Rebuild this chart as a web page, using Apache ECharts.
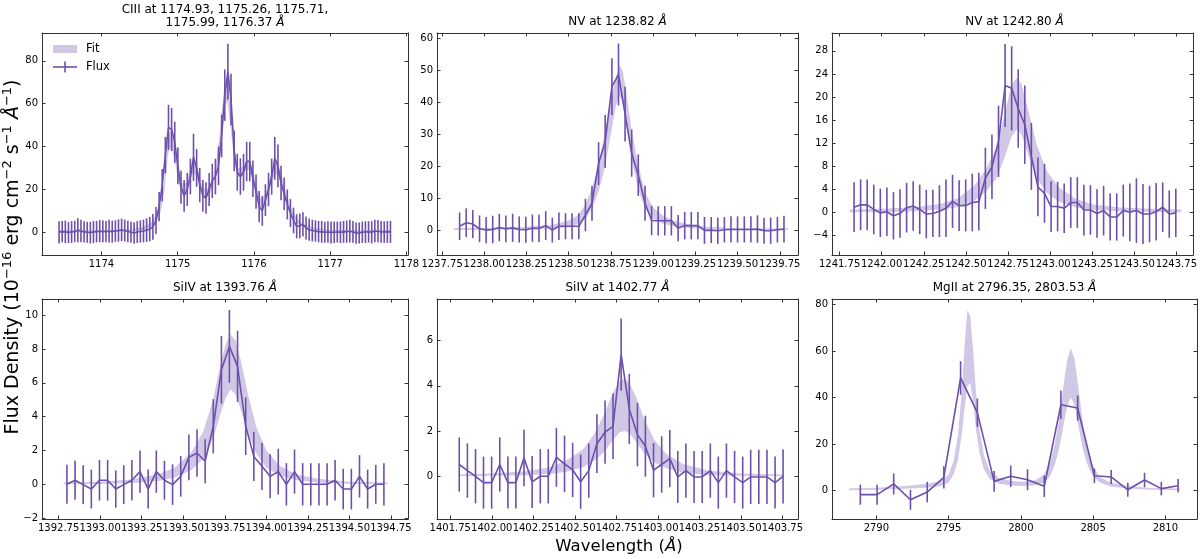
<!DOCTYPE html>
<html>
<head>
<meta charset="utf-8">
<script src="https://cdn.jsdelivr.net/npm/echarts@6/dist/echarts.min.js"></script>
<style>
  html, body { margin: 0; padding: 0; background: #fff; }
  #chart { width: 1200px; height: 559px; }
</style>
</head>
<body>
<div id="chart"></div>
<script>
// ---- CIII multiplet ----
var ciiiWave = [1173.444, 1173.485, 1173.526, 1173.567, 1173.608, 1173.649, 1173.690, 1173.731, 1173.772, 1173.813,
  1173.854, 1173.895, 1173.936, 1173.977, 1174.018, 1174.059, 1174.100, 1174.141, 1174.182, 1174.223,
  1174.264, 1174.305, 1174.346, 1174.387, 1174.428, 1174.469, 1174.510, 1174.551, 1174.592, 1174.633,
  1174.674, 1174.715, 1174.756, 1174.797, 1174.838, 1174.879, 1174.920, 1174.961, 1175.002, 1175.043,
  1175.084, 1175.125, 1175.166, 1175.207, 1175.248, 1175.289, 1175.330, 1175.371, 1175.412, 1175.453,
  1175.494, 1175.535, 1175.576, 1175.617, 1175.658, 1175.699, 1175.740, 1175.781, 1175.822, 1175.863,
  1175.904, 1175.945, 1175.986, 1176.027, 1176.068, 1176.109, 1176.150, 1176.191, 1176.232, 1176.273,
  1176.314, 1176.355, 1176.396, 1176.437, 1176.478, 1176.519, 1176.560, 1176.601, 1176.642, 1176.683,
  1176.724, 1176.765, 1176.806, 1176.847, 1176.888, 1176.929, 1176.970, 1177.011, 1177.052, 1177.093,
  1177.134, 1177.175, 1177.216, 1177.257, 1177.298, 1177.339, 1177.380, 1177.421, 1177.462, 1177.503,
  1177.544, 1177.585, 1177.626, 1177.667, 1177.708, 1177.749, 1177.790];
var ciiiFlux = [0.0, 0.3, 0.2, -0.1, 0.1, 0.4, 1.0, 0.6, 0.2, 0.0, -0.2, 0.1, 0.3, 0.5, 0.4, 0.3, 0.5, 0.3, 0.6, 0.8,
  1.1, 0.8, 0.4, 0.0, -0.3, 0.1, 0.4, 0.6,
  1.0, 1.5, 2.5, 5.5, 12, 22, 36, 49, 48, 42, 31, 21, 17, 20, 26, 35, 30, 22, 17, 16, 20, 24, 26, 31, 45, 64, 75, 62, 38,
  28, 26, 28, 33, 33, 25, 19, 12, 10, 15, 20, 26, 34.5, 31, 23, 18, 13, 9, 5.5, 2.8, 3.0, 3.7, 2.0, 1.2, 0.8, 0.6,
  0.3, 0.2, 0.0, 0.1, -0.1, 0.0, 0.1, 0.0, 0.2, 0.3, 0.5, 0.2, -0.4, -0.3, 0.0, 0.1, 0.2, 0.0, 0.6, 0.5, 0.2, 0.1, 0.2, 0.2];
var ciiiErr = [5.2, 5.0, 5.3, 4.9, 5.1, 5.0, 5.6, 5.2, 5.0, 4.9, 5.0, 5.1, 5.0, 5.2, 5.1, 5.0, 5.3, 5.1, 5.0, 5.2,
  5.3, 5.1, 5.0, 4.9, 5.0, 5.1, 5.2, 5.3,
  5.5, 5.7, 6.0, 6.3, 6.8, 7.5, 8.5, 10.5, 10.0, 9.6, 8.6, 7.7, 7.4, 7.7, 8.3, 11.0, 8.8, 8.0, 7.4, 7.3, 7.7, 8.0,
  8.3, 9.0, 10.0, 12.0, 13.0, 12.0, 9.5,
  8.6, 8.5, 8.6, 9.2, 9.2, 8.5, 8.0, 7.3, 7.0, 7.4, 7.8, 8.4, 10.0, 10.0, 8.0, 7.6, 7.0, 6.5, 6.0, 5.6, 5.8, 5.7,
  5.4, 5.2, 5.1, 5.0,
  5.0, 5.1, 4.9, 5.0, 5.1, 5.0, 4.9, 5.0, 5.1, 5.2, 5.3, 5.1, 5.0, 4.9, 5.0, 5.1, 5.0, 5.2, 5.3, 5.2, 5.1, 5.0, 5.1, 5.2];
var ciiiFitWave = [1173.44, 1174.0, 1174.4, 1174.55, 1174.65, 1174.72, 1174.78, 1174.83, 1174.87, 1174.91,
  1174.96, 1175.01, 1175.06, 1175.11, 1175.16, 1175.21, 1175.26, 1175.31, 1175.36, 1175.41,
  1175.46, 1175.51, 1175.56, 1175.61, 1175.65, 1175.69, 1175.74, 1175.79, 1175.84, 1175.89,
  1175.93, 1175.98, 1176.03, 1176.08, 1176.12, 1176.17, 1176.22, 1176.27, 1176.31, 1176.36,
  1176.41, 1176.46, 1176.51, 1176.56, 1176.62, 1176.7, 1176.8, 1177.0, 1177.3, 1177.79];
var ciiiFitLow = [0, 0, 0.4, 1.2, 2.5, 5, 10, 20, 36, 40, 34, 23, 19, 19, 24, 28, 25, 19, 16, 17,
  21, 29, 42, 58, 61, 50, 33, 26, 26, 29, 29, 25, 18, 12, 12, 16, 22, 27, 27, 22,
  16, 11, 7, 4.5, 3, 2, 1.2, 0.4, 0.1, 0];
var ciiiFitHigh = [1, 1, 1.4, 2.6, 4.5, 8, 14, 26, 44, 48, 41, 28, 23, 23, 29, 33, 30, 23, 20, 21,
  25, 34, 49, 68, 72, 59, 39, 30, 30, 33, 34, 30, 22, 16, 16, 20, 27, 32, 32, 27,
  20, 14, 9.5, 6.5, 4.5, 3, 2, 1.2, 1, 1];
var ciiiXTicks = [1174, 1175, 1176, 1177, 1178];
var ciiiYTicks = [0, 20, 40, 60, 80];

// ---- NV 1238.82 ----
var nv1Wave = [1237.854, 1237.893, 1237.932, 1237.972, 1238.011, 1238.050, 1238.089, 1238.128, 1238.168, 1238.207,
  1238.246, 1238.285, 1238.324, 1238.364, 1238.403, 1238.442, 1238.481, 1238.520, 1238.560, 1238.599,
  1238.638, 1238.677, 1238.716, 1238.756, 1238.795, 1238.834, 1238.873, 1238.912, 1238.952, 1238.991,
  1239.030, 1239.069, 1239.108, 1239.148, 1239.187, 1239.226, 1239.265, 1239.304, 1239.344, 1239.383,
  1239.422, 1239.461, 1239.500, 1239.540, 1239.579, 1239.618, 1239.657, 1239.696, 1239.736, 1239.775];
var nv1Flux = [1.2, 2.3, 1.9, 0.4, 0.0, 0.2, 0.8, 0.4, 0.7, 0.2, 0.1, 0.6, 0.5, 1.4, 0.0, 1.2, 1.2, 1.2, 1.2, 4.7,
  8.4, 20.8, 27.7, 44.9, 48.7, 36.3, 24.1, 17.2, 8.4, 3.0, 2.9, 2.9, 2.9, 0.6, 1.4, 1.4, 1.4, -0.1, 0.0, -0.2,
  0.1, 0.2, 0.2, 0.2, 0.2, 0.3, -0.2, -0.2, 0.1, 0.3];
var nv1Err = [4.3, 4.5, 4.4, 4.2, 4.1, 4.3, 4.3, 4.2, 4.4, 4.1, 4.1, 4.3, 4.3, 4.5, 3.9, 4.3, 4.1, 4.1, 4.1, 5.1,
  5.5, 6.7, 8.3, 8.9, 9.7, 8.6, 7.4, 6.5, 5.5, 4.6, 4.6, 4.6, 4.6, 4.1, 4.3, 4.3, 4.3, 4.2, 4.1, 4.1,
  4.0, 4.1, 4.1, 4.1, 4.1, 4.3, 4.1, 4.1, 4.0, 4.2];
var nv1FitWave = [1237.82, 1238.2, 1238.4, 1238.5, 1238.55, 1238.60, 1238.64, 1238.677, 1238.716, 1238.756, 1238.78,
  1238.80, 1238.82, 1238.85, 1238.873, 1238.91, 1238.95, 1239.0, 1239.06, 1239.12, 1239.2, 1239.3, 1239.5, 1239.80];
var nv1FitLow = [0, 0.2, 0.5, 1.0, 1.8, 3.5, 7, 12, 20, 32, 39, 42, 40, 30, 22, 13, 7, 3.5, 2, 1.2, 0.7, 0.35, 0.1, 0];
var nv1FitHigh = [0.6, 0.9, 1.6, 3.0, 4.5, 8, 13.5, 21, 31, 42, 48, 51.5, 50, 40, 31, 21, 12, 7, 4.5, 3.0, 1.9, 1.1, 0.6, 0.5];
var nv1XTicks = [1237.75, 1238.0, 1238.25, 1238.5, 1238.75, 1239.0, 1239.25, 1239.5, 1239.75];
var nv1YTicks = [0, 10, 20, 30, 40, 50, 60];

// ---- NV 1242.80 ----
var nv2Wave = [1241.836, 1241.875, 1241.914, 1241.953, 1241.992, 1242.031, 1242.070, 1242.109, 1242.148, 1242.187,
  1242.226, 1242.265, 1242.304, 1242.343, 1242.382, 1242.421, 1242.460, 1242.499, 1242.538, 1242.577,
  1242.616, 1242.655, 1242.694, 1242.733, 1242.772, 1242.811, 1242.850, 1242.889, 1242.928, 1242.967,
  1243.006, 1243.045, 1243.084, 1243.123, 1243.162, 1243.201, 1243.240, 1243.279, 1243.318, 1243.357,
  1243.396, 1243.435, 1243.474, 1243.513, 1243.552, 1243.591, 1243.630, 1243.669, 1243.708, 1243.747];
var nv2Flux = [0.9, 1.3, 1.3, 0.5, -0.1, 0.1, -0.6, -0.2, 0.8, 1.1, 0.5, -0.3, -0.2, 0.2, 0.7, 1.9, 1.15, 1.2, 1.7, 1.85,
  5.9, 7.9, 12.3, 22.0, 21.5, 18.0, 15.2, 9.7, 4.4, 3.3, 1.0, 1.0, 0.7, 1.7, 1.7, 0.4, 0.4, -0.2, 0.3, -0.8,
  -0.8, 0.3, 0.0, 0.3, -0.3, -0.3, 0.1, 0.9, -0.3, -0.1];
var nv2Err = [4.3, 4.4, 4.4, 4.3, 4.2, 4.2, 4.1, 4.2, 4.3, 4.3, 4.3, 4.2, 4.1, 4.5, 5.0, 4.6, 4.4, 4.5, 5.0, 5.0,
  5.3, 5.6, 6.2, 7.2, 7.3, 6.8, 6.8, 5.8, 5.1, 5.1, 4.4, 4.3, 4.3, 4.4, 4.4, 4.4, 4.3, 4.2, 4.3, 4.1,
  4.1, 4.5, 5.0, 5.6, 5.2, 4.9, 5.0, 4.3, 4.1, 4.2];
var nv2FitWave = [1241.81, 1242.0, 1242.2, 1242.35, 1242.45, 1242.55, 1242.62, 1242.68, 1242.73, 1242.77, 1242.80,
  1242.83, 1242.87, 1242.92, 1242.98, 1243.05, 1243.15, 1243.25, 1243.4, 1243.6, 1243.78];
var nv2FitLow = [0.0, 0.05, 0.2, 0.5, 0.9, 2.0, 3.6, 5.8, 9.5, 13, 14.3, 13.5, 10, 6, 3.4, 1.9, 0.9, 0.45, 0.2, 0.05, 0.0];
var nv2FitHigh = [0.5, 0.6, 0.9, 1.5, 2.4, 4.6, 7.5, 11.2, 17, 22, 23.3, 22.3, 17.8, 11.8, 7.2, 4.4, 2.4, 1.4, 0.9, 0.6, 0.5];
var nv2XTicks = [1241.75, 1242.0, 1242.25, 1242.5, 1242.75, 1243.0, 1243.25, 1243.5, 1243.75];
var nv2YTicks = [-4, 0, 4, 8, 12, 16, 20, 24, 28];

// ---- SiIV 1393.76 ----
var si1Wave = [1392.800, 1392.849, 1392.898, 1392.947, 1392.996, 1393.045, 1393.094, 1393.142, 1393.191, 1393.240,
  1393.289, 1393.338, 1393.387, 1393.436, 1393.485, 1393.534, 1393.583, 1393.632, 1393.681, 1393.730,
  1393.778, 1393.827, 1393.876, 1393.925, 1393.974, 1394.023, 1394.072, 1394.121, 1394.170, 1394.219,
  1394.268, 1394.317, 1394.366, 1394.414, 1394.463, 1394.512, 1394.561, 1394.610, 1394.659, 1394.708];
var si1Flux = [0.0, 0.24, -0.02, -0.28, 0.24, 0.24, -0.28, -0.02, 0.24, 0.75, -0.28, 0.75, 0.24, -0.02, 0.47, 1.59,
  1.85, 1.36, 3.43, 6.77, 8.15, 6.97, 3.43, 1.65, 1.06, 0.47, 0.75, 0.0, 0.75, 0.0, 0.0, 0.0, 0.0, 0.24, -0.28,
  -0.28, 0.47, -0.28, 0.0, 0.0];
var si1Err = [1.15, 1.15, 1.15, 1.15, 1.2, 1.2, 1.1, 1.15, 1.2, 1.25, 1.15, 1.25, 1.15, 1.2, 1.2, 1.35, 1.4, 1.3,
  1.6, 2.0, 2.15, 2.1, 1.7, 1.45, 1.4, 1.3, 1.35, 1.25, 1.3, 1.25, 1.25, 1.25, 1.25, 1.2, 1.2, 1.2, 1.25, 1.15,
  1.15, 1.25];
var si1FitWave = [1392.78, 1393.0, 1393.2, 1393.35, 1393.45, 1393.55, 1393.62, 1393.68, 1393.72, 1393.755, 1393.785,
  1393.815, 1393.85, 1393.89, 1393.94, 1394.0, 1394.08, 1394.18, 1394.3, 1394.5, 1394.73];
var si1FitLow = [0.0, 0.02, 0.08, 0.2, 0.4, 0.85, 1.5, 2.7, 4.0, 5.1, 5.6, 5.3, 4.3, 3.0, 1.8, 1.0, 0.5, 0.25, 0.1, 0.03, 0.0];
var si1FitHigh = [0.1, 0.15, 0.3, 0.6, 1.0, 1.9, 3.1, 5.0, 6.9, 8.3, 8.85, 8.5, 7.2, 5.3, 3.4, 2.0, 1.1, 0.6, 0.35, 0.15, 0.1];
var si1XTicks = [1392.75, 1393.0, 1393.25, 1393.5, 1393.75, 1394.0, 1394.25, 1394.5, 1394.75];
var si1YTicks = [-2, 0, 2, 4, 6, 8, 10];

// ---- SiIV 1402.77 ----
var si2Wave = [1401.804, 1401.853, 1401.902, 1401.950, 1401.999, 1402.048, 1402.097, 1402.145, 1402.194, 1402.243,
  1402.292, 1402.340, 1402.389, 1402.438, 1402.487, 1402.535, 1402.584, 1402.633, 1402.682, 1402.730,
  1402.779, 1402.828, 1402.877, 1402.925, 1402.974, 1403.023, 1403.072, 1403.120, 1403.169, 1403.218,
  1403.267, 1403.316, 1403.364, 1403.413, 1403.462, 1403.511, 1403.559, 1403.608, 1403.657, 1403.706, 1403.754];
var si2Flux = [0.52, 0.25, 0.0, -0.28, -0.28, 0.52, -0.28, -0.28, 0.81, -0.25, 0.0, 0.0, 0.84, 0.55, 0.28, -0.24,
  0.25, 1.44, 1.95, 2.21, 5.38, 2.98, 1.84, 1.33, 0.27, 0.52, 0.78, -0.03, 0.25, -0.03, -0.03, 0.25, -0.28, 0.25,
  -0.03, -0.28, -0.03, -0.03, -0.03, -0.28, 0.0];
var si2Err = [1.2, 1.2, 1.2, 1.15, 1.15, 1.2, 1.15, 1.15, 1.25, 1.15, 1.2, 1.2, 1.3, 1.25, 1.2, 1.2, 1.2, 1.3, 1.4,
  1.45, 1.6, 1.55, 1.4, 1.35, 1.2, 1.25, 1.27, 1.15, 1.2, 1.15, 1.15, 1.2, 1.15, 1.2, 1.15, 1.15, 1.2, 1.2, 1.2,
  1.15, 1.2];
var si2FitWave = [1401.80, 1402.0, 1402.2, 1402.35, 1402.45, 1402.55, 1402.62, 1402.68, 1402.73, 1402.77, 1402.80,
  1402.83, 1402.87, 1402.92, 1402.98, 1403.05, 1403.15, 1403.3, 1403.5, 1403.76];
var si2FitLow = [0.0, 0.02, 0.05, 0.1, 0.2, 0.4, 0.7, 1.1, 1.6, 1.95, 2.0, 1.9, 1.5, 1.0, 0.6, 0.35, 0.15, 0.06, 0.02, 0.0];
var si2FitHigh = [0.08, 0.12, 0.22, 0.4, 0.7, 1.2, 1.9, 2.8, 3.7, 4.2, 4.35, 4.1, 3.5, 2.5, 1.6, 1.0, 0.55, 0.25, 0.12, 0.08];
var si2XTicks = [1401.75, 1402.0, 1402.25, 1402.5, 1402.75, 1403.0, 1403.25, 1403.5, 1403.75];
var si2YTicks = [0, 2, 4, 6];

// ---- MgII h & k ----
var mgWave = [2788.89, 2790.05, 2791.20, 2792.36, 2793.52, 2794.67, 2795.83, 2796.99, 2798.15, 2799.30,
  2800.46, 2801.62, 2802.77, 2803.93, 2805.09, 2806.25, 2807.40, 2808.56, 2809.72, 2810.88];
var mgFlux = [-1.7, -1.7, 2.9, -3.9, -0.6, 5.7, 48.4, 33.5, 4.0, 6.2, 4.7, 1.9, 36.9, 35.5, 6.4, 5.9, 0.4, 4.6, 0.9, 2.1];
var mgErr = [4.3, 4.3, 4.5, 4.3, 4.4, 4.8, 7.2, 6.1, 4.5, 4.6, 4.5, 4.6, 6.1, 5.4, 3.1, 3.0, 3.0, 3.1, 2.9, 2.9];
var mgFitWave = [2788.1, 2790, 2792, 2793.5, 2794.5, 2795.0, 2795.35, 2795.65, 2795.9, 2796.1, 2796.3, 2796.5,
  2796.7, 2796.9, 2797.15, 2797.45, 2797.85, 2798.5, 2799.3, 2800.2, 2801.0, 2801.6, 2802.0, 2802.35, 2802.65,
  2802.95, 2803.2, 2803.45, 2803.7, 2803.95, 2804.25, 2804.55, 2804.95, 2805.45, 2806.2, 2807.4, 2809.0, 2811.0];
var mgFitLow = [0.2, 0.4, 0.8, 1.3, 2.0, 3.5, 7, 13, 24, 35, 45, 46, 38, 26, 16, 9, 5, 3, 2.2, 2.0, 2.3, 3.5, 6,
  11, 18, 28, 36, 40, 37, 29, 19, 12, 6.5, 3.5, 1.8, 0.9, 0.4, 0.2];
var mgFitHigh = [1.0, 1.3, 2.0, 3.0, 4.2, 7, 13, 24, 42, 62, 77.5, 75, 60, 42, 26, 15, 8.5, 5.5, 4.2, 3.8, 4.5, 7, 12,
  20, 31, 45, 56, 61, 57, 46, 31, 20, 11, 6, 3.5, 2.0, 1.2, 0.9];
var mgXTicks = [2790, 2795, 2800, 2805, 2810];
var mgYTicks = [0, 20, 40, 60, 80];

var LINE = '#6d50ab';
var BAND = 'rgba(112, 84, 176, 0.32)';
var AXIS = '#333333';
var FONT = 'DejaVu Sans';

var panels = [
  { title: 'CIII at 1174.93, 1175.26, 1175.71,\n1175.99, 1176.37 {i|Å}', titleY: 16.5,
    wave: ciiiWave, flux: ciiiFlux, err: ciiiErr, fitWave: ciiiFitWave, fitLow: ciiiFitLow, fitHigh: ciiiFitHigh,
    xTicks: ciiiXTicks, yTicks: ciiiYTicks, xDec: 0, x: [1173.22, 1178.02], y: [-10.6, 93], box: [42, 33, 366, 222] },
  { title: 'NV at 1238.82 {i|Å}', titleY: 22,
    wave: nv1Wave, flux: nv1Flux, err: nv1Err, fitWave: nv1FitWave, fitLow: nv1FitLow, fitHigh: nv1FitHigh,
    xTicks: nv1XTicks, yTicks: nv1YTicks, xDec: 2, x: [1237.72, 1239.858], y: [-7.8, 61.7], box: [437, 33, 361, 222] },
  { title: 'NV at 1242.80 {i|Å}', titleY: 22,
    wave: nv2Wave, flux: nv2Flux, err: nv2Err, fitWave: nv2FitWave, fitLow: nv2FitLow, fitHigh: nv2FitHigh,
    xTicks: nv2XTicks, yTicks: nv2YTicks, xDec: 2, x: [1241.705, 1243.85], y: [-7.4, 31.1], box: [832, 33, 365, 222] },
  { title: 'SiIV at 1393.76 {i|Å}', titleY: 288,
    wave: si1Wave, flux: si1Flux, err: si1Err, fitWave: si1FitWave, fitLow: si1FitLow, fitHigh: si1FitHigh,
    xTicks: si1XTicks, yTicks: si1YTicks, xDec: 2, x: [1392.65, 1394.853], y: [-2.05, 10.95], box: [42, 299, 366, 220] },
  { title: 'SiIV at 1402.77 {i|Å}', titleY: 288,
    wave: si2Wave, flux: si2Flux, err: si2Err, fitWave: si2FitWave, fitLow: si2FitLow, fitHigh: si2FitHigh,
    xTicks: si2XTicks, yTicks: si2YTicks, xDec: 2, x: [1401.67, 1403.844], y: [-1.89, 7.84], box: [437, 299, 361, 220] },
  { title: 'MgII at 2796.35, 2803.53 {i|Å}', titleY: 288,
    wave: mgWave, flux: mgFlux, err: mgErr, fitWave: mgFitWave, fitLow: mgFitLow, fitHigh: mgFitHigh,
    xTicks: mgXTicks, yTicks: mgYTicks, xDec: 0, x: [2786.93, 2812.19], y: [-12.15, 82.3], box: [832, 299, 365, 220] }
];

function fmt(v, dec) {
  return v.toFixed(dec).replace('-', '\u2212');
}

function makeAxis(kind, k, p, pos, labels) {
  var ticks = kind === 'x' ? p.xTicks : p.yTicks;
  var range = kind === 'x' ? p.x : p.y;
  var dec = kind === 'x' ? p.xDec : 0;
  return {
    type: 'value', gridIndex: k, position: pos, min: range[0], max: range[1],
    splitLine: { show: false },
    axisLine: { show: true, onZero: false, lineStyle: { color: AXIS, width: 1 } },
    axisTick: { show: true, inside: true, length: 3.5, customValues: ticks, lineStyle: { color: AXIS, width: 1 } },
    axisLabel: {
      show: labels, customValues: ticks, margin: 4,
      fontSize: 10, color: '#000', fontFamily: FONT,
      formatter: function (v) { return fmt(v, dec); }
    }
  };
}

var grids = [], xAxes = [], yAxes = [], series = [], graphics = [];

panels.forEach(function (p, k) {
  grids.push({ left: p.box[0], top: p.box[1], width: p.box[2], height: p.box[3] });
  xAxes.push(makeAxis('x', k, p, 'bottom', true));
  xAxes.push(makeAxis('x', k, p, 'top', false));
  yAxes.push(makeAxis('y', k, p, 'left', true));
  yAxes.push(makeAxis('y', k, p, 'right', false));

  // fit band as one polygon
  series.push({
    type: 'custom', xAxisIndex: 2 * k, yAxisIndex: 2 * k, clip: true, z: 1,
    data: p.fitWave.map(function (w, i) { return [w, p.fitLow[i], p.fitHigh[i]]; }),
    renderItem: function (params, api) {
      if (params.dataIndex !== 0) return null;
      var pts = [];
      for (var i = 0; i < p.fitWave.length; i++) pts.push(api.coord([p.fitWave[i], p.fitHigh[i]]));
      for (var j = p.fitWave.length - 1; j >= 0; j--) pts.push(api.coord([p.fitWave[j], p.fitLow[j]]));
      return { type: 'polygon', shape: { points: pts }, style: { fill: BAND } };
    }
  });

  // error bars
  series.push({
    type: 'custom', xAxisIndex: 2 * k, yAxisIndex: 2 * k, clip: true, z: 3,
    data: p.wave.map(function (w, i) { return [w, p.flux[i] - p.err[i], p.flux[i] + p.err[i]]; }),
    renderItem: function (params, api) {
      var a = api.coord([api.value(0), api.value(1)]);
      var b = api.coord([api.value(0), api.value(2)]);
      return { type: 'line', shape: { x1: a[0], y1: a[1], x2: b[0], y2: b[1] },
        style: { stroke: LINE, lineWidth: 1.6 } };
    }
  });

  // flux line
  series.push({
    type: 'line', xAxisIndex: 2 * k, yAxisIndex: 2 * k, z: 4,
    symbol: 'none', showSymbol: false,
    lineStyle: { color: LINE, width: 1.6 },
    data: p.wave.map(function (w, i) { return [w, p.flux[i]]; })
  });

  graphics.push({
    type: 'text', x: p.box[0] + p.box[2] / 2, y: p.titleY,
    style: { text: p.title, align: 'center', verticalAlign: 'middle', fontSize: 12, fontFamily: FONT,
      fill: '#000', lineHeight: 13.5, rich: { i: { fontStyle: 'italic', fontSize: 12, fontFamily: FONT } } }
  });
});

// legend (Fit band, Flux with error bar)
graphics.push({ type: 'rect', shape: { x: 53, y: 45, width: 24, height: 8 }, style: { fill: BAND } });
graphics.push({ type: 'text', x: 86, y: 49, style: { text: 'Fit', verticalAlign: 'middle', fontSize: 11.5, fontFamily: FONT, fill: '#000' } });
graphics.push({ type: 'line', shape: { x1: 53, y1: 67, x2: 77, y2: 67 }, style: { stroke: LINE, lineWidth: 1.6 } });
graphics.push({ type: 'line', shape: { x1: 65, y1: 61.5, x2: 65, y2: 72.5 }, style: { stroke: LINE, lineWidth: 1.6 } });
graphics.push({ type: 'text', x: 86, y: 67, style: { text: 'Flux', verticalAlign: 'middle', fontSize: 11.5, fontFamily: FONT, fill: '#000' } });

// shared axis titles
graphics.push({
  type: 'text', x: 13, y: 257, rotation: Math.PI / 2,
  style: { text: 'Flux Density (10{s|\u221216} erg cm{s|\u22122} s{s|\u22121} {i|Å}{s|\u22121})',
    align: 'center', verticalAlign: 'middle', fontSize: 19, fontFamily: FONT, fill: '#000', lineHeight: 24,
    rich: {
      i: { fontStyle: 'italic', fontSize: 19, fontFamily: FONT, lineHeight: 24 },
      s: { fontSize: 13, fontFamily: FONT, verticalAlign: 'top', lineHeight: 24 }
    } }
});
graphics.push({
  type: 'text', x: 619, y: 547,
  style: { text: 'Wavelength ({i|Å})', align: 'center', verticalAlign: 'middle', fontSize: 16.5, fontFamily: FONT, fill: '#000',
    rich: { i: { fontStyle: 'italic', fontSize: 16.5, fontFamily: FONT } } }
});

var chart = echarts.init(document.getElementById('chart'), null, { renderer: 'canvas' });
chart.setOption({
  animation: false,
  backgroundColor: '#fff',
  grid: grids,
  xAxis: xAxes,
  yAxis: yAxes,
  series: series,
  graphic: graphics
});
</script>
</body>
</html>
